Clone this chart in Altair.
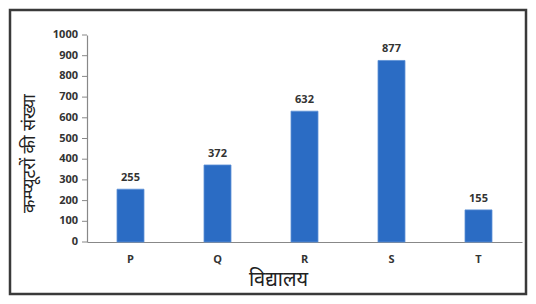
import altair as alt
import pandas as pd

schools = ["P", "Q", "R", "S", "T"]
computers = [255, 372, 632, 877, 155]
y_ticks = [0, 100, 200, 300, 400, 500, 600, 700, 800, 900, 1000]

df = pd.DataFrame({"school": schools, "count": computers})
ticks_df = pd.DataFrame({"v": y_ticks})

FONT = "Noto Sans"
LABEL_FONT = "Open Sans"

x_axis = alt.Axis(
    title="विद्यालय",
    titleFont=FONT,
    titleFontSize=20,
    titleFontWeight="normal",
    titleColor="#222222",
    titleX=191,
    titleY=37,
    titleBaseline="middle",
    labelAngle=0,
    labelFont=LABEL_FONT,
    labelFontWeight="bold",
    labelFontSize=11,
    labelColor="#333333",
    labelPadding=11,
    ticks=False,
    domainColor="#888888",
    domainWidth=1.2,
)

y_axis = alt.Axis(
    title="कम्प्यूटरों की संख्या",
    titleFont=FONT,
    titleFontSize=17.5,
    titleFontWeight="normal",
    titleColor="#222222",
    titleX=-58,
    titleY=118,
    titleAngle=-90,
    titleAlign="center",
    titleBaseline="middle",
    labels=False,
    ticks=False,
    grid=False,
    domainColor="#888888",
    domainWidth=1.2,
)

y_scale = alt.Scale(domain=[0, 1000])
x_enc = alt.X("school:N", sort=schools,
              scale=alt.Scale(paddingInner=0.69, paddingOuter=0.345), axis=x_axis)
y_enc = alt.Y("count:Q", scale=y_scale, axis=y_axis)

base = alt.Chart(df)

bars = base.mark_bar(color="#2B6CC4", stroke="#5C8FD6", strokeWidth=0.8).encode(
    x=x_enc,
    y=y_enc,
)

labels = base.mark_text(
    baseline="bottom", dy=-6, font=LABEL_FONT, fontWeight="bold", fontSize=11, color="#333333"
).encode(
    x=x_enc,
    y=y_enc,
    text=alt.Text("count:Q"),
)

tick_base = alt.Chart(ticks_df)
tick_marks = tick_base.mark_rule(color="#888888", strokeWidth=1).encode(
    x=alt.value(-5),
    x2=alt.value(0),
    y=alt.Y("v:Q", scale=y_scale),
)
tick_labels = tick_base.mark_text(
    align="right", baseline="middle", font=LABEL_FONT, fontWeight="bold",
    fontSize=11, color="#333333"
).encode(
    x=alt.value(-9),
    y=alt.Y("v:Q", scale=y_scale),
    text=alt.Text("v:Q", format="d"),
)

frame = alt.Chart(alt.Data(values=[{"a": 1}])).mark_rect(
    fill="transparent", stroke="#3a3a3a", strokeWidth=2.5
).encode(
    x=alt.value(-77),
    x2=alt.value(439),
    y=alt.value(-25),
    y2=alt.value(259),
)

chart = (
    alt.layer(bars, labels, tick_marks, tick_labels, frame)
    .properties(
        width=435,
        height=207,
        autosize=alt.AutoSizeParams(type="none"),
        padding={"left": 79, "top": 27, "right": 6, "bottom": 54},
        background="white",
    )
    .configure_view(stroke=None)
)

chart.save("out.html", embed_options={"renderer": "svg", "actions": False})
